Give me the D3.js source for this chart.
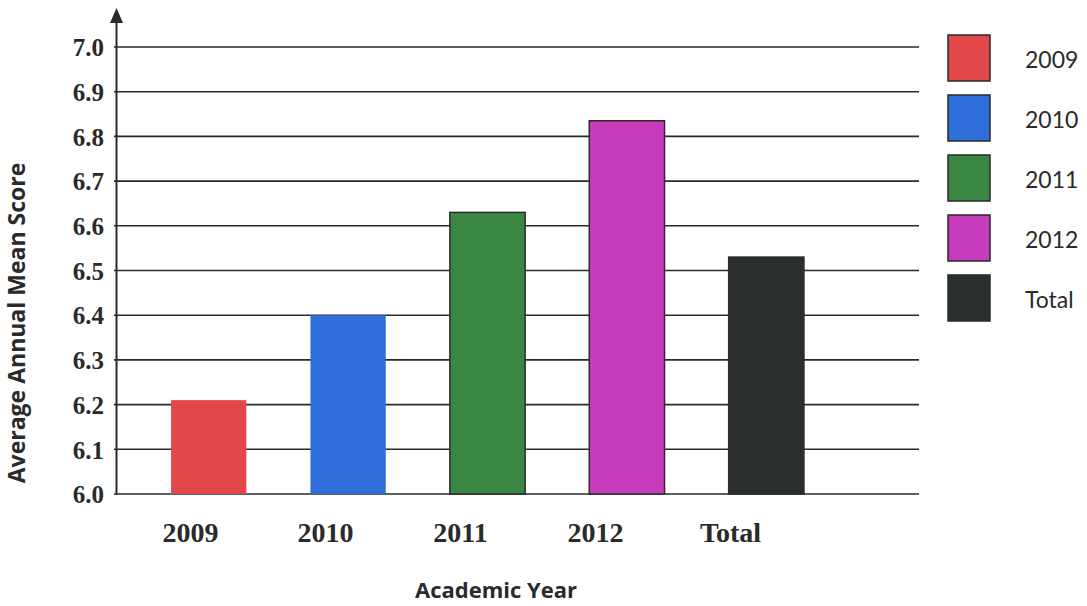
<!DOCTYPE html>
<html>
<head>
<meta charset="utf-8">
<script src="https://cdn.jsdelivr.net/npm/d3@7"></script>
<style>
  html, body { margin: 0; padding: 0; background: #ffffff; }
  svg { display: block; }
</style>
</head>
<body>
<svg id="chart" width="1087" height="606"></svg>
<script>
// ---- data ----
const categories = ["2009", "2010", "2011", "2012", "Total"];
const meanScores = [6.21, 6.40, 6.63, 6.835, 6.53];
const yTicks = [6.0, 6.1, 6.2, 6.3, 6.4, 6.5, 6.6, 6.7, 6.8, 6.9, 7.0];
const legendLabels = ["2009", "2010", "2011", "2012", "Total"];

// ---- styles ----
const barColors = ["#e2484a", "#2f6ed8", "#3a8743", "#c73cbd", "#2b2f2c"];
const barStrokes = ["none", "none", "#2b2b2b", "#2b2b2b", "#2b2b2b"];

const svg = d3.select("#chart");
const ink = "#2a2a2a";

const y = d3.scaleLinear().domain([6.0, 7.0]).range([494, 47]);
const xBars = d3.scaleBand().domain(categories).range([139, 836]).paddingInner(0.46).paddingOuter(0.23);
const xLabels = d3.scaleBand().domain(categories).range([123, 798]).padding(0);

// gridlines
svg.append("g").selectAll("line").data(yTicks).join("line")
  .attr("x1", 114).attr("x2", 919)
  .attr("y1", d => y(d)).attr("y2", d => y(d))
  .attr("stroke", ink).attr("stroke-width", 1.6);

// bars
svg.append("g").selectAll("rect").data(categories).join("rect")
  .attr("x", d => xBars(d))
  .attr("width", xBars.bandwidth())
  .attr("y", (d, i) => y(meanScores[i]))
  .attr("height", (d, i) => y(6.0) - y(meanScores[i]))
  .attr("fill", (d, i) => barColors[i])
  .attr("stroke", (d, i) => barStrokes[i])
  .attr("stroke-width", 1.5);

// y axis line with arrow
svg.append("line").attr("x1", 116.5).attr("x2", 116.5).attr("y1", 18).attr("y2", 495)
  .attr("stroke", ink).attr("stroke-width", 2);
svg.append("path").attr("d", "M116.5,8 L110,23 L123,23 Z").attr("fill", ink);

// y tick labels
const yAxis = d3.axisLeft(y).tickValues(yTicks).tickFormat(d3.format(".1f")).tickSize(0).tickPadding(0);
const gy = svg.append("g").attr("transform", "translate(104,0)").call(yAxis);
gy.select(".domain").remove();
gy.selectAll("text")
  .attr("font-family", "'Liberation Serif', 'Times New Roman', serif")
  .attr("font-weight", "bold").attr("font-size", 25).attr("fill", ink)
  .attr("dy", "0.35em");

// x tick labels
const xAxis = d3.axisBottom(xLabels).tickSize(0).tickPadding(0);
const gx = svg.append("g").attr("transform", "translate(0,522)").call(xAxis);
gx.select(".domain").remove();
gx.selectAll("text")
  .attr("font-family", "'Liberation Serif', 'Times New Roman', serif")
  .attr("font-weight", "bold").attr("font-size", 28).attr("fill", ink)
  .attr("dy", "0.7em");

// axis titles
svg.append("text").attr("x", 496).attr("y", 598).attr("text-anchor", "middle")
  .attr("font-family", "'Open Sans', Lato, sans-serif").attr("font-weight", "bold")
  .attr("font-size", 22).attr("fill", ink).text("Academic Year");

svg.append("text").attr("transform", "translate(25,323) rotate(-90)").attr("text-anchor", "middle")
  .attr("font-family", "'Open Sans', Lato, sans-serif").attr("font-weight", "bold")
  .attr("font-size", 23).attr("fill", ink).text("Average Annual Mean Score");

// legend
const ly = d3.scaleBand().domain(legendLabels).range([35, 321]).paddingInner(0.233).paddingOuter(0);
const lg = svg.append("g").selectAll("g").data(legendLabels).join("g")
  .attr("transform", d => `translate(948,${ly(d)})`);
lg.append("rect").attr("width", 42).attr("height", ly.bandwidth())
  .attr("fill", (d, i) => barColors[i]).attr("stroke", ink).attr("stroke-width", 1.5);
lg.append("text").attr("x", 77).attr("y", ly.bandwidth() / 2 + 2).attr("dy", "0.35em")
  .attr("font-family", "Lato, 'Open Sans', sans-serif").attr("font-size", 23)
  .attr("fill", ink).text(d => d);
</script>
</body>
</html>
